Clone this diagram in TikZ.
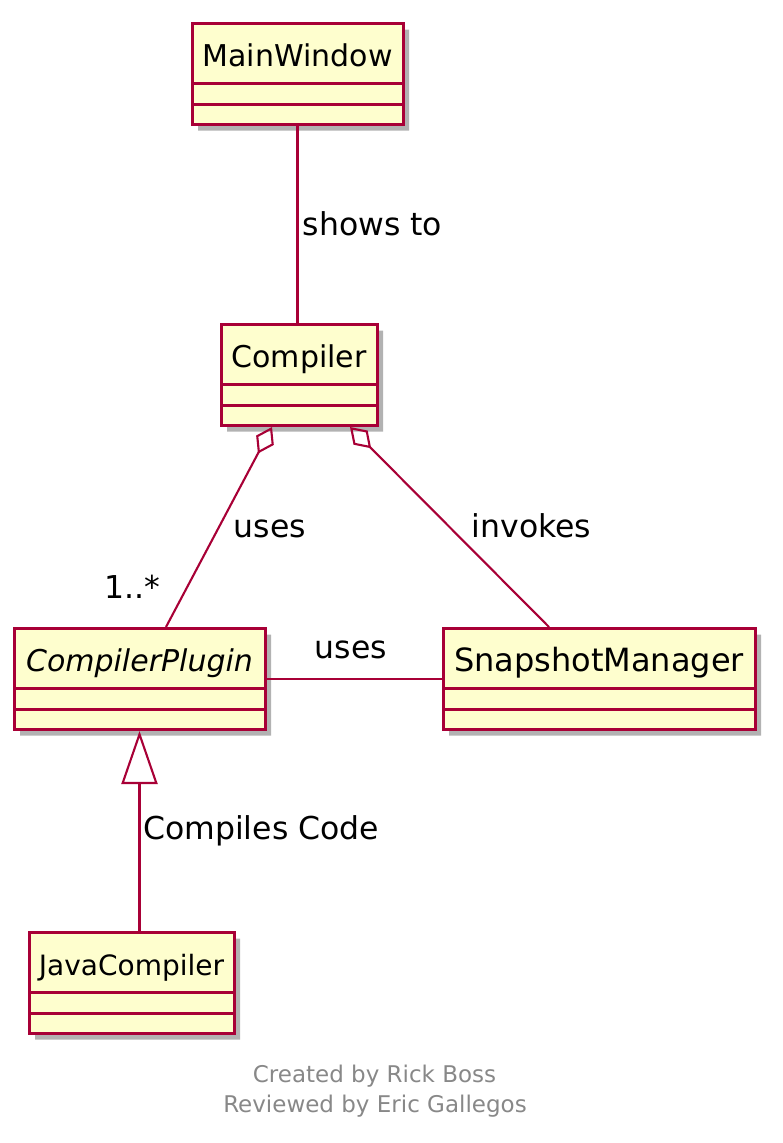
\documentclass[tikz,border=0pt]{standalone}
\usepackage{fontspec}
\setmainfont{DejaVu Sans}
\usetikzlibrary{shapes.multipart,arrows.meta,shadows}
\definecolor{umlborder}{HTML}{A80036}
\definecolor{umlfill}{HTML}{FEFECE}
\definecolor{notegray}{HTML}{888888}
\def\hdr{\rule[-16pt]{0pt}{57pt}}
\tikzset{
	umlclass/.style={rectangle split, rectangle split parts=3, draw=umlborder, fill=umlfill, line width=3pt, inner xsep=0pt, inner ysep=0pt, rectangle split empty part height=17.5pt, rectangle split empty part depth=0pt, font=\fontsize{30}{36}\selectfont, anchor=north, drop shadow={shadow xshift=6pt, shadow yshift=-6pt, fill=black!55, opacity=0.55}},
	umlline/.style={draw=umlborder, line width=2.1pt},
	umllabel/.style={font=\fontsize{31.5}{36}\selectfont, anchor=base, inner sep=0pt},
	footnote/.style={font=\fontsize{23}{28}\selectfont, text=notegray, anchor=base, inner sep=0pt}
}

\begin{document}
\begin{tikzpicture}[x=1pt, y=-1pt]
			%%%%% START %%%%%
			\useasboundingbox (0, 0) rectangle (783, 1143);
			
			\node[umlclass, minimum width=211] (mainwin) at (297.5, 22) {\hdr MainWindow};
			\node[umlclass, minimum width=156] (compiler) at (299, 323) {\hdr Compiler};
			\node[umlclass, minimum width=251] (plugin) at (139.5, 627) {\hdr\itshape CompilerPlugin};
			\node[umlclass, minimum width=312, font=\fontsize{32}{36}\selectfont] (snapshot) at (599, 627) {\hdr SnapshotManager};
			\node[umlclass, minimum width=205, font=\fontsize{28}{36}\selectfont] (javacomp) at (131.5, 931) {\hdr JavaCompiler};
			
			\draw[umlline] (mainwin.south) -- (mainwin.south |- compiler.north);
			\draw[umlline, {Diamond[open, length=30pt, width=20pt]}-] ([xshift=-27pt]compiler.south) -- ([xshift=26.5pt]plugin.north);
			\draw[umlline, {Diamond[open, length=30pt, width=20pt]}-] ([xshift=51pt]compiler.south) -- ([xshift=-50pt]snapshot.north);
			\draw[umlline] (plugin.east) -- (snapshot.west);
			\draw[umlline, -{Triangle[open, length=53pt, width=36pt]}] (plugin.south |- javacomp.north) -- (plugin.south);
			
			\node[umllabel] (showsto) at (372.5, 235) {shows to};
			\node[umllabel] (usesplugin) at (270, 537) {uses};
			\node[umllabel] (multi) at (132, 598) {1..*};
			\node[umllabel] (invokes) at (531.5, 537) {invokes};
			\node[umllabel] (usessnap) at (351, 658) {uses};
			\node[umllabel, anchor=base west] (compiles) at (143, 839) {Compiles Code};
			
			\node[footnote] (createdby) at (374.5, 1082) {Created by Rick Boss};
			\node[footnote] (reviewedby) at (375, 1112) {Reviewed by Eric Gallegos};
			
			%%%%% END %%%%%
		\end{tikzpicture}
\end{document}
